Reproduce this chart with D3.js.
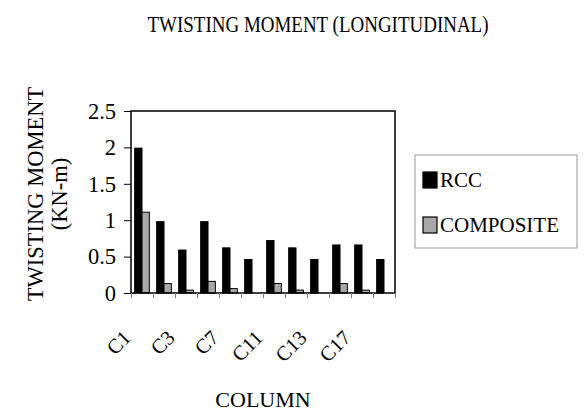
<!DOCTYPE html>
<html>
<head>
<meta charset="utf-8">
<script src="https://cdn.jsdelivr.net/npm/d3@7"></script>
<style>
  body { margin: 0; background: #fff; }
  text { font-family: "Liberation Serif", "DejaVu Serif", serif; fill: #000; }
</style>
</head>
<body>
<div id="chart"></div>
<script>
// data
const categories = ["C1", "C2", "C3", "C5", "C7", "C9", "C11", "C12", "C13", "C15", "C17", "C19"];
const shownLabels = ["C1", "C3", "C7", "C11", "C13", "C17"];
const seriesNames = ["RCC", "COMPOSITE"];
const rccValues = [1.99, 0.98, 0.59, 0.98, 0.62, 0.46, 0.72, 0.62, 0.46, 0.66, 0.66, 0.46];
const compositeValues = [1.11, 0.13, 0.04, 0.16, 0.06, 0, 0.13, 0.04, 0, 0.13, 0.04, 0];
const yTicks = [0, 0.5, 1, 1.5, 2, 2.5];

const width = 587, height = 413;
const plot = { left: 131, right: 395, top: 111, bottom: 293 };
const colors = { RCC: "#000000", COMPOSITE: "#a8a8a8" };

const svg = d3.select("#chart").append("svg")
  .attr("width", width)
  .attr("height", height);

const x0 = d3.scaleBand().domain(categories).range([plot.left, plot.right]).padding(0);
const x1 = d3.scaleBand().domain(seriesNames).range([0, x0.bandwidth()])
  .paddingInner(0).paddingOuter(0.5);
const y = d3.scaleLinear().domain([0, 2.5]).range([plot.bottom, plot.top]);

const rows = categories.map((c, i) => ({
  cat: c,
  values: [
    { key: "RCC", value: rccValues[i] },
    { key: "COMPOSITE", value: compositeValues[i] },
  ],
}));

// bars
const groups = svg.selectAll(".group")
  .data(rows)
  .enter().append("g")
  .attr("class", "group")
  .attr("transform", (d) => `translate(${x0(d.cat)},0)`);

groups.selectAll("rect")
  .data((d) => d.values.filter((v) => v.value > 0))
  .enter().append("rect")
  .attr("x", (d) => x1(d.key))
  .attr("y", (d) => y(d.value))
  .attr("width", x1.bandwidth())
  .attr("height", (d) => y(0) - y(d.value))
  .attr("fill", (d) => colors[d.key])
  .attr("stroke", "#000")
  .attr("stroke-width", 1);

// plot frame
svg.append("rect")
  .attr("x", plot.left)
  .attr("y", plot.top)
  .attr("width", plot.right - plot.left)
  .attr("height", plot.bottom - plot.top)
  .attr("fill", "none")
  .attr("stroke", "#000")
  .attr("stroke-width", 1.5);

// y axis
const yAxis = d3.axisLeft(y).tickValues(yTicks).tickSize(7).tickPadding(8)
  .tickFormat((d) => String(d));
const gy = svg.append("g")
  .attr("transform", `translate(${plot.left},0)`)
  .call(yAxis);
gy.select(".domain").remove();
gy.selectAll("text").attr("font-size", 22.5).attr("font-family", "Liberation Serif");

// x axis: tick marks on category boundaries
const xEdge = d3.scaleLinear().domain([0, categories.length]).range([plot.left, plot.right]);
const gx = svg.append("g")
  .attr("transform", `translate(0,${plot.bottom})`)
  .call(d3.axisBottom(xEdge).tickValues(d3.range(categories.length + 1)).tickSize(5).tickFormat(""));
gx.select(".domain").remove();
gx.selectAll("line").attr("stroke", "#777");

// category labels, every other one
svg.append("g").selectAll("text")
  .data(categories.filter((c) => shownLabels.includes(c)))
  .enter().append("text")
  .attr("transform", (d) => `translate(${x0(d) + x0.bandwidth() / 2 - 10},${plot.bottom + 46}) rotate(-45)`)
  .attr("text-anchor", "end")
  .attr("font-size", 20.5)
  .text((d) => d);

// titles
svg.append("text")
  .attr("x", 318)
  .attr("y", 32)
  .attr("text-anchor", "middle")
  .attr("font-size", 23)
  .attr("textLength", 341)
  .attr("lengthAdjust", "spacingAndGlyphs")
  .text("TWISTING MOMENT  (LONGITUDINAL)");

svg.append("text")
  .attr("x", (plot.left + plot.right) / 2)
  .attr("y", 407)
  .attr("text-anchor", "middle")
  .attr("font-size", 22)
  .text("COLUMN");

const yTitle = svg.append("g")
  .attr("transform", "translate(0,194) rotate(-90)")
  .attr("text-anchor", "middle");
yTitle.append("text").attr("x", 0).attr("y", 43).attr("font-size", 22.5).text("TWISTING MOMENT");
yTitle.append("text").attr("x", 0).attr("y", 67).attr("font-size", 22.5).text("(KN-m)");

// legend
const legend = svg.append("g");
legend.append("rect")
  .attr("x", 415)
  .attr("y", 155)
  .attr("width", 162)
  .attr("height", 93)
  .attr("fill", "#fff")
  .attr("stroke", "#999")
  .attr("stroke-width", 1);

const items = legend.selectAll(".item")
  .data(seriesNames)
  .enter().append("g")
  .attr("class", "item")
  .attr("transform", (d, i) => `translate(423,${172 + i * 45})`);

items.append("rect")
  .attr("width", 14)
  .attr("height", 16)
  .attr("fill", (d) => colors[d])
  .attr("stroke", "#000")
  .attr("stroke-width", 1.2);

items.append("text")
  .attr("x", 17)
  .attr("y", 15)
  .attr("font-size", 21)
  .text((d) => d);
</script>
</body>
</html>
